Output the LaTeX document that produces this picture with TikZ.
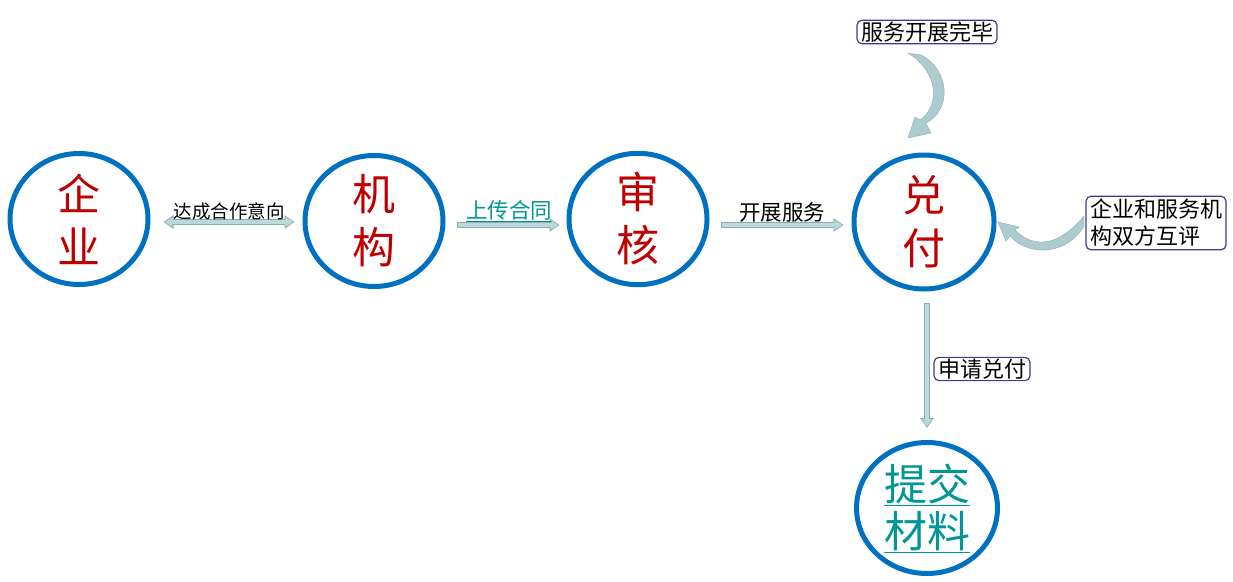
\documentclass[tikz,border=0pt]{standalone}
\usepackage{fontspec}
\setmainfont{Noto Sans CJK SC}
\usetikzlibrary{shapes.geometric,arrows.meta,calc}
\definecolor{ringblue}{RGB}{0,112,192}
\definecolor{darkred}{RGB}{192,0,0}
\definecolor{teal2}{RGB}{0,150,150}
\definecolor{arrowfill}{RGB}{187,217,221}
\definecolor{arrowline}{RGB}{140,172,176}
\definecolor{boxline}{RGB}{64,58,140}
\definecolor{curvefill}{RGB}{172,204,208}
\tikzset{
  ring/.style={ellipse, draw=ringblue, line width=5pt, inner sep=0pt,
    minimum width=138pt, minimum height=131pt, align=center,
    font=\fontsize{43}{53}\selectfont},
  connout/.style={draw=arrowline, line width=5.6pt, -{Triangle[length=10pt,width=13pt]}},
  connin/.style={draw=arrowfill, line width=3.4pt, -{Triangle[length=7.5pt,width=9pt]}},
  connoutb/.style={draw=arrowline, line width=5.6pt, {Triangle[length=10pt,width=13pt]}-{Triangle[length=10pt,width=13pt]}},
  conninb/.style={draw=arrowfill, line width=3.4pt, {Triangle[length=7.5pt,width=9pt]}-{Triangle[length=7.5pt,width=9pt]}},
  lbl/.style={font=\fontsize{21.5}{25}\selectfont, inner sep=0pt},
  tagbox/.style={draw=boxline, line width=1.2pt, rounded corners=5pt, fill=white,
    font=\fontsize{22}{25}\selectfont, inner xsep=4pt, inner ysep=1.5pt}
}
\begin{document}
\begin{tikzpicture}[x=1pt,y=-1pt]
\useasboundingbox (0,0) rectangle (1233,581);
% circles
\node[ring, text=darkred] (qy) at (79,219) {企\\业};
\node[ring, text=darkred] (jg) at (374,221) {机\\构};
\node[ring, text=darkred] (sh) at (638,219) {审\\核};
\node[ring, text=darkred, minimum width=140pt, minimum height=134pt] (df) at (924,222) {兑\\付};
\node[ring, text=teal2, font=\fontsize{43}{47}\selectfont, minimum width=141pt] (tj) at (927,508) {\underline{提交}\\\underline{材料}};
% arrow 1 (double headed)
\draw[connoutb, shorten <=13pt, shorten >=8pt] ([yshift=-3pt]qy.east) -- ([yshift=-1pt]jg.west);
\draw[conninb, shorten <=14.3pt, shorten >=9.3pt] ([yshift=-3pt]qy.east) -- ([yshift=-1pt]jg.west);
\node[lbl, font=\fontsize{18.5}{21}\selectfont] (l1) at (229,211) {达成合作意向};
% arrow 2
\draw[connout, shorten <=11pt, shorten >=7pt] ([yshift=-4pt]jg.east) -- ([yshift=-6pt]sh.west);
\draw[connin, shorten <=12pt, shorten >=8.3pt] ([yshift=-4pt]jg.east) -- ([yshift=-6pt]sh.west);
\node[lbl, text=teal2] (l2) at (509,211) {\underline{上传合同}};
% arrow 3
\draw[connout, shorten <=11pt, shorten >=8pt] ([yshift=-6pt]sh.east) -- ([yshift=-3pt]df.west);
\draw[connin, shorten <=12pt, shorten >=9.3pt] ([yshift=-6pt]sh.east) -- ([yshift=-3pt]df.west);
\node[lbl] (l3) at (782,212) {开展服务};
% arrow 4 (down)
\draw[connout, shorten <=11pt, shorten >=12pt] ([xshift=3pt]df.south) -- (tj.north);
\draw[connin, shorten <=12pt, shorten >=13.3pt] ([xshift=3pt]df.south) -- (tj.north);
\node[tagbox] (b2) at (982,369) {申请兑付};
% top box and curved arrow
\node[tagbox] (b1) at (927,32) {服务开展完毕};
\fill[curvefill, draw=arrowline, line width=0.4pt]
  (908,53) -- (921,55) .. controls (950,70) and (952,110) .. (926,123)
  -- (931,133) -- (908,138) -- (915,117) -- (920,120)
  .. controls (940,106) and (939,72) .. (908,53) -- cycle;
% right box and curved arrow
\node[tagbox, align=left, font=\fontsize{22}{27}\selectfont, inner ysep=3pt] (b3) at (1156,223) {企业和服务机\\构双方互评};
\fill[curvefill, draw=arrowline, line width=0.4pt]
  (1084,216) .. controls (1060,245) and (1035,250) .. (1015,230)
  -- (1019,227) -- (998,222) -- (1006,241) -- (1010,236)
  .. controls (1030,258) and (1068,254) .. (1084,226) -- cycle;
\end{tikzpicture}
\end{document}
